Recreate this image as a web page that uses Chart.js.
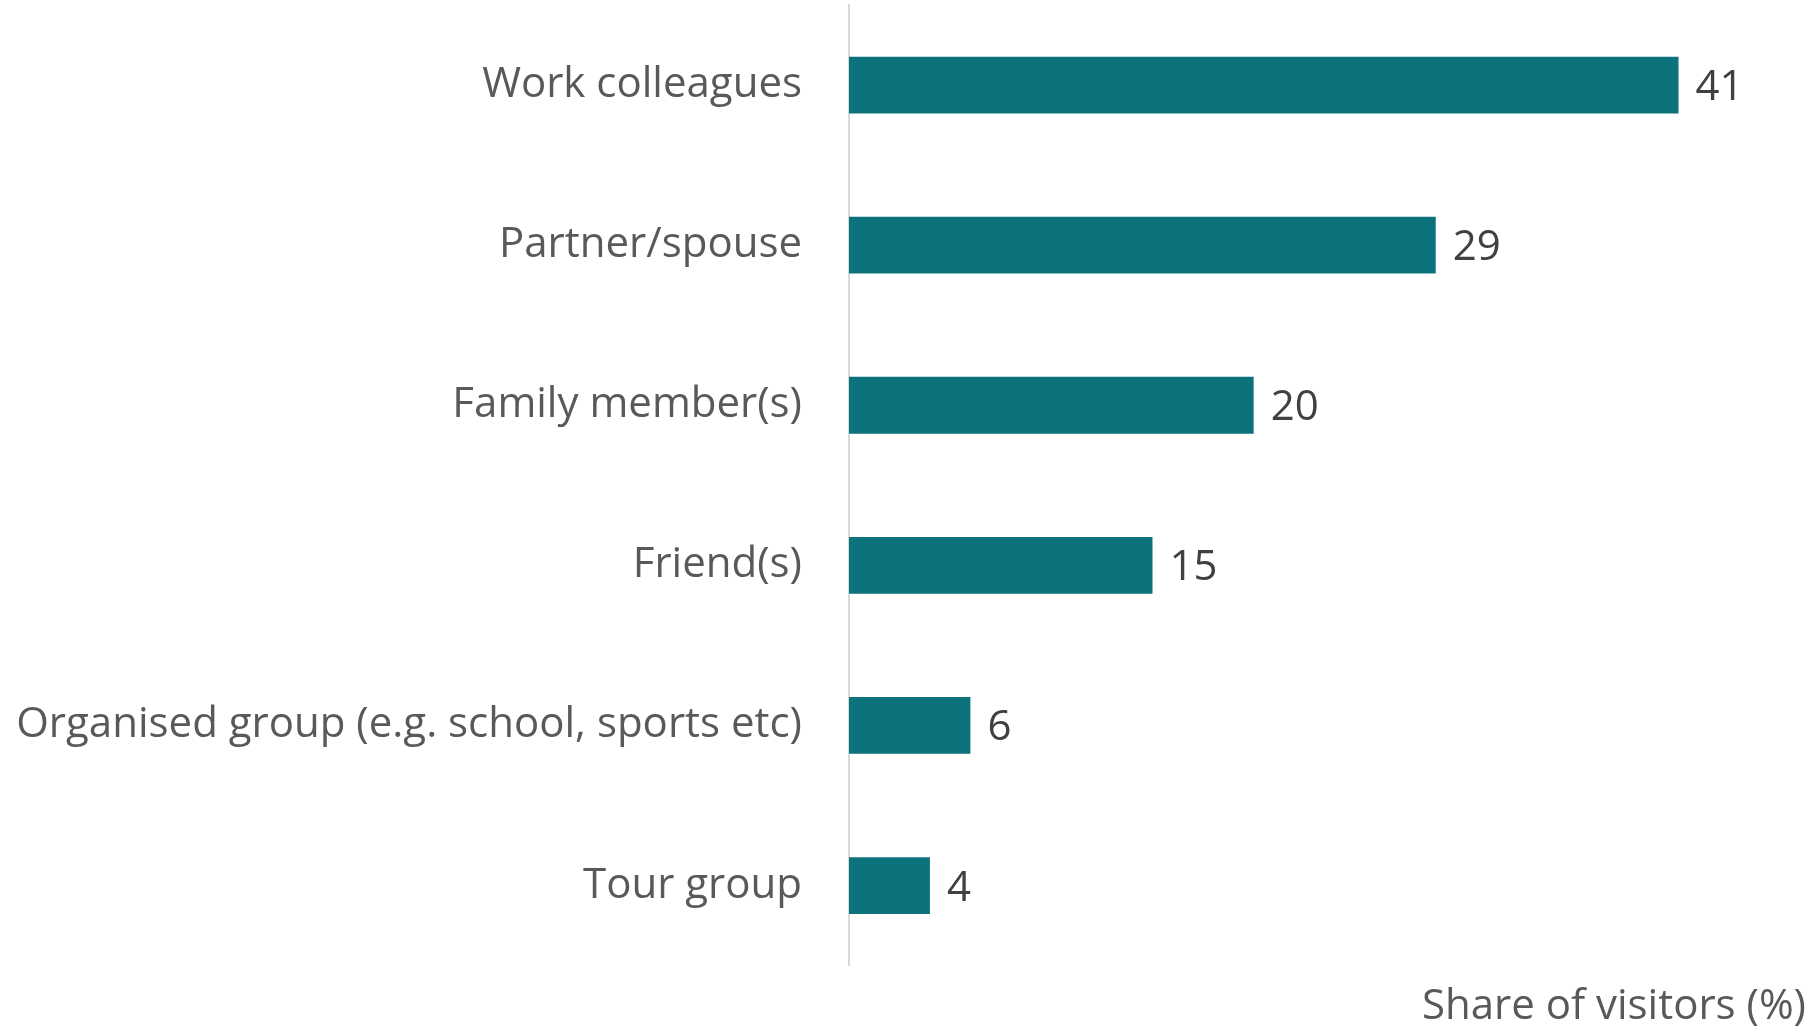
<!DOCTYPE html>
<html>
<head>
<meta charset="utf-8">
<script src="https://cdn.jsdelivr.net/npm/chart.js@4/dist/chart.umd.min.js"></script>
<style>
  html, body { margin: 0; padding: 0; background: #ffffff; }
  #wrap { width: 1819px; height: 1026px; position: relative; }
</style>
</head>
<body>
<div id="wrap"><canvas id="chart" width="1819" height="1026"></canvas></div>
<script>
// Who visitors came with
const categories = [
  'Work colleagues',
  'Partner/spouse',
  'Family member(s)',
  'Friend(s)',
  'Organised group (e.g. school, sports etc)',
  'Tour group'
];
const shareValues = [41, 29, 20, 15, 6, 4];
const axisTitle = 'Share of visitors (%)';

const FONT = "'Open Sans', 'Noto Sans', sans-serif";
const FONT_SIZE = 42;
const BAR_COLOR = '#0c727b';

// Writes each bar's value just past its end
const valueLabels = {
  id: 'valueLabels',
  afterDatasetsDraw(chart) {
    const ctx = chart.ctx;
    const meta = chart.getDatasetMeta(0);
    ctx.save();
    ctx.font = FONT_SIZE + 'px ' + FONT;
    ctx.fillStyle = '#404040';
    ctx.textAlign = 'left';
    ctx.textBaseline = 'middle';
    meta.data.forEach((bar, i) => {
      ctx.fillText(String(shareValues[i]), bar.x + 17, bar.y + 3);
    });
    ctx.restore();
  }
};

new Chart(document.getElementById('chart'), {
  type: 'bar',
  data: {
    labels: categories,
    datasets: [{
      data: shareValues,
      backgroundColor: BAR_COLOR,
      borderWidth: 0,
      categoryPercentage: 0.355,
      barPercentage: 1.0
    }]
  },
  options: {
    indexAxis: 'y',
    responsive: false,
    animation: false,
    layout: { padding: { top: 5, right: 13, bottom: 0, left: 0 } },
    plugins: {
      legend: { display: false },
      tooltip: { enabled: false }
    },
    scales: {
      x: {
        min: 0,
        max: 47.3,
        grid: { display: false, drawTicks: false },
        border: { display: false },
        ticks: { display: false },
        title: {
          display: true,
          text: axisTitle,
          align: 'end',
          color: '#595959',
          font: { family: FONT, size: FONT_SIZE },
          padding: { top: 16, bottom: -6 }
        },
        afterFit(scale) {
          scale.paddingLeft = 0;
          scale.paddingRight = 0;
        }
      },
      y: {
        grid: { display: false, drawTicks: false },
        border: { display: true, color: '#d9d9d9', width: 2 },
        ticks: {
          color: '#595959',
          font: { family: FONT, size: FONT_SIZE },
          padding: 47
        },
        afterFit(scale) {
          scale.width = 849;
          scale.paddingTop = 0;
          scale.paddingBottom = 0;
        }
      }
    }
  },
  plugins: [valueLabels]
});
</script>
</body>
</html>
